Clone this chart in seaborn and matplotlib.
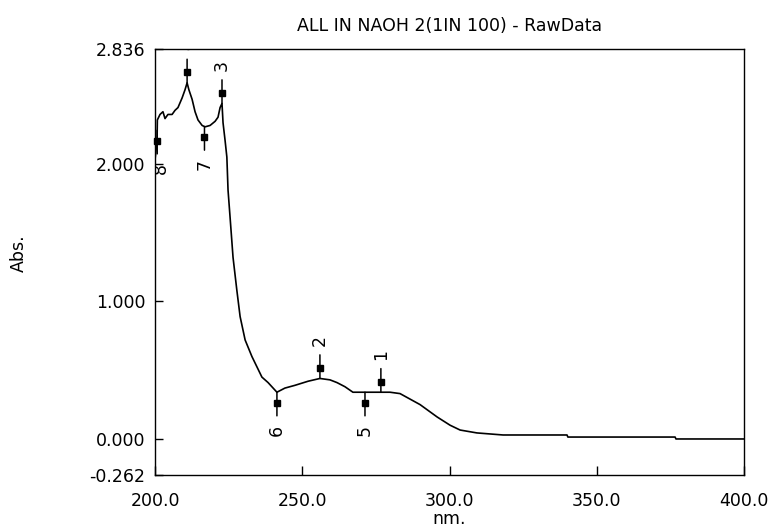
import numpy as np
import matplotlib
matplotlib.use("Agg")
import matplotlib.pyplot as plt
import seaborn as sns
from matplotlib.transforms import offset_copy

# ---- data ----
wavelength = [200.0, 200.7, 200.8, 201.7, 202.7, 203.4, 204.4, 205.8, 206.8, 207.8,
              209.2, 210.2, 210.9, 211.5, 212.6, 213.6, 214.6, 216.0, 217.0, 218.7,
              220.4, 221.4, 222.1, 222.75, 223.1, 223.8, 224.4, 224.8, 225.5, 226.5,
              227.8, 228.9, 230.6, 232.9, 236.3, 238.4, 241.4, 244.1, 247.5, 252.0,
              256.0, 259.4, 261.8, 264.5, 267.2, 271.3, 276.7, 279.8, 283.2, 286.6,
              290.0, 295.8, 300.2, 303.6, 309.3, 318.2, 339.9, 340.2, 376.6, 376.9,
              400.0]
absorbance = [2.03, 2.17, 2.32, 2.36, 2.38, 2.33, 2.36, 2.36, 2.39, 2.41,
              2.48, 2.54, 2.59, 2.54, 2.47, 2.38, 2.32, 2.28, 2.27, 2.28,
              2.31, 2.34, 2.41, 2.44, 2.30, 2.17, 2.05, 1.81, 1.61, 1.32,
              1.08, 0.89, 0.72, 0.60, 0.45, 0.41, 0.34, 0.37, 0.39, 0.42,
              0.44, 0.43, 0.41, 0.38, 0.34, 0.34, 0.34, 0.34, 0.33, 0.29,
              0.25, 0.16, 0.10, 0.065, 0.044, 0.029, 0.029, 0.014, 0.014, 0.0,
              0.0]

peak_labels = ["1", "2", "3", "4"]
peak_nm = [276.7, 256.0, 222.75, 210.9]
valley_labels = ["5", "6", "7", "8"]
valley_nm = [271.3, 241.4, 216.8, 200.75]

x_ticks = [200.0, 250.0, 300.0, 350.0, 400.0]
y_ticks = [-0.262, 0.0, 1.0, 2.0, 2.836]

title = "ALL IN NAOH 2(1IN 100) - RawData"
x_label = "nm."
y_label = "Abs."

# ---- drawing ----
sns.set_style("ticks")
plt.rcParams["font.family"] = ["DejaVu Sans"]
FS = 12.5

fig = plt.figure(figsize=(7.68, 5.30), dpi=100)
ax = fig.add_axes([155 / 768, 1 - 475 / 530, 589 / 768, 426 / 530])

sns.lineplot(x=wavelength, y=absorbance, ax=ax, color="black", linewidth=1.2,
             estimator=None, sort=False)

ax.set_xlim(200, 400)
ax.set_ylim(-0.262, 2.836)
ax.set_xticks(x_ticks)
ax.set_xticklabels([f"{v:.1f}" for v in x_ticks])
ax.set_yticks(y_ticks)
ax.set_yticklabels([f"{v:.3f}" for v in y_ticks])
ax.tick_params(axis="x", direction="in", length=6.5, width=1.0, pad=12,
               labelsize=FS, colors="black")
ax.tick_params(axis="y", direction="in", length=6, width=1.0, pad=7,
               labelsize=FS, colors="black")
for s in ax.spines.values():
    s.set_visible(True)
    s.set_color("black")
    s.set_linewidth(1.0)

ax.set_title(title, fontsize=FS, pad=13, color="black")
ax.set_xlabel(x_label, fontsize=FS, color="black")
ax.set_ylabel(y_label, fontsize=FS, color="black")
ax.xaxis.set_label_coords(0.5, -0.104)
ax.xaxis.label.set_va("center")
ax.yaxis.set_label_coords(-0.231, 0.521)
ax.yaxis.label.set_va("center")


def mark(nm, label, sign):
    y = float(np.interp(nm, wavelength, absorbance))
    ax.annotate("", xy=(nm, y), xytext=(0, sign * 17), textcoords="offset points",
                arrowprops=dict(arrowstyle="-", lw=1.1, color="black",
                                shrinkA=0, shrinkB=0), annotation_clip=False)
    mtr = offset_copy(ax.transData, fig=fig, x=0, y=sign * 7.5, units="points")
    ax.plot([nm], [y], marker="s", ms=4.2, color="black", transform=mtr,
            clip_on=False)
    ttr = offset_copy(ax.transData, fig=fig, x=2.5 if label == "8" else 0,
                      y=sign * 27.5, units="points")
    ax.text(nm, y, label, transform=ttr, rotation=90, ha="center", va="center",
            fontsize=FS, color="black", clip_on=True)


for nm, lab in zip(peak_nm, peak_labels):
    mark(nm, lab, +1)
for nm, lab in zip(valley_nm, valley_labels):
    mark(nm, lab, -1)

fig.savefig("out.png", dpi=100, facecolor="white")
